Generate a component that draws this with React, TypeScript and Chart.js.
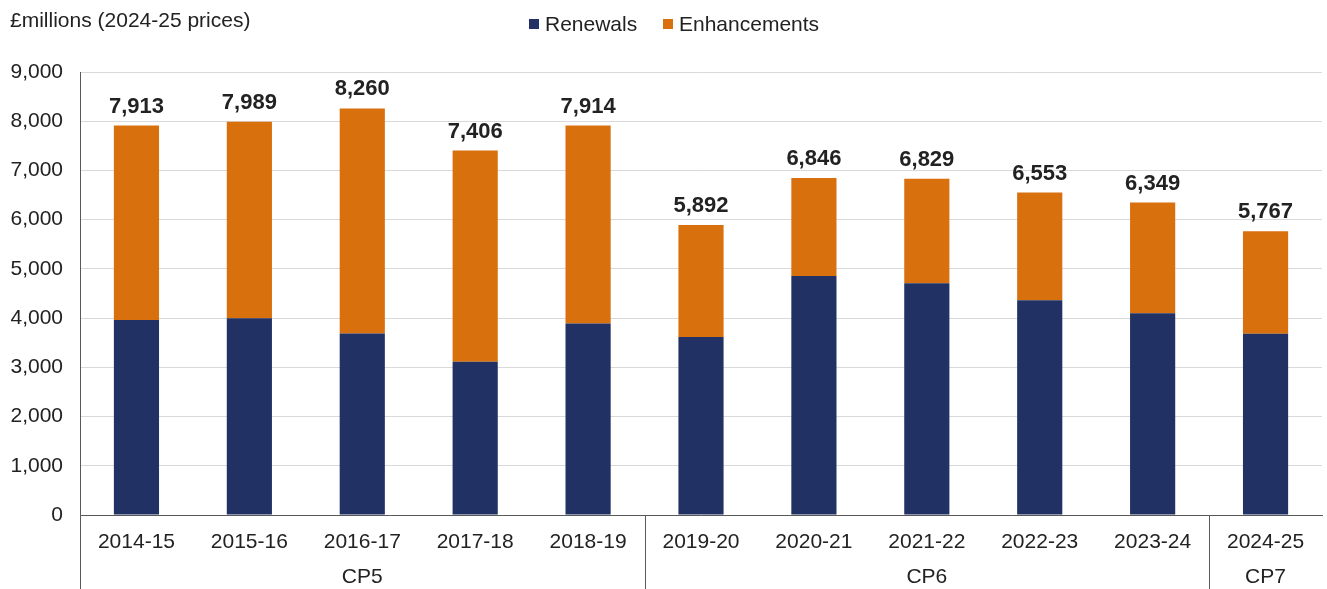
import React, { useEffect, useRef } from "react";
import { Chart, registerables } from "chart.js";

Chart.register(...registerables);

const categories = ["2014-15", "2015-16", "2016-17", "2017-18", "2018-19", "2019-20", "2020-21", "2021-22", "2022-23", "2023-24", "2024-25"];
const renewals = [3960, 3995, 3685, 3115, 3890, 3615, 4858, 4710, 4365, 4100, 3680];
const enhancements = [3953, 3994, 4575, 4291, 4024, 2277, 1988, 2119, 2188, 2249, 2087];
const totalLabels = ["7,913", "7,989", "8,260", "7,406", "7,914", "5,892", "6,846", "6,829", "6,553", "6,349", "5,767"];
const groups = [
  { label: "CP5", start: 0, end: 4 },
  { label: "CP6", start: 5, end: 9 },
  { label: "CP7", start: 10, end: 10 },
];
const yTitle = "£millions (2024-25 prices)";
const seriesNames = ["Renewals", "Enhancements"];

const NAVY = "#213163";
const ORANGE = "#D9700E";
const TEXT = "#222222";
const FONT = "'Liberation Sans', Arial, sans-serif";

export default function App() {
  const ref = useRef<HTMLCanvasElement | null>(null);

  useEffect(() => {
    if (!ref.current) return;
    const overlay = {
      id: "overlay",
      afterDraw(chart: any) {
        const ctx = chart.ctx;
        const xs = chart.scales.x;
        const area = chart.chartArea;
        ctx.save();
        // y title
        ctx.fillStyle = TEXT;
        ctx.font = `21px ${FONT}`;
        ctx.textAlign = "left";
        ctx.textBaseline = "middle";
        ctx.fillText(yTitle, 10, 21);
        // legend
        const legendItems = [
          { name: seriesNames[0], color: NAVY, x: 529 },
          { name: seriesNames[1], color: ORANGE, x: 663 },
        ];
        legendItems.forEach((it) => {
          ctx.fillStyle = it.color;
          ctx.fillRect(it.x, 19, 10, 10);
          ctx.fillStyle = TEXT;
          ctx.fillText(it.name, it.x + 16, 25);
        });
        // total labels
        const meta = chart.getDatasetMeta(1);
        ctx.font = `bold 22px ${FONT}`;
        ctx.textAlign = "center";
        meta.data.forEach((bar: any, i: number) => {
          ctx.fillText(totalLabels[i], bar.x, bar.y - 19);
        });
        // group separators and labels
        const boundary = (i: number) => {
          if (i <= 0) return area.left;
          return (xs.getPixelForTick(i - 1) + xs.getPixelForTick(i)) / 2;
        };
        ctx.strokeStyle = "#595959";
        ctx.lineWidth = 1;
        const bottom = chart.height;
        [0, 5, 10].forEach((i) => {
          const x = Math.round(boundary(i)) + 0.5;
          ctx.beginPath();
          ctx.moveTo(x, area.bottom);
          ctx.lineTo(x, bottom);
          ctx.stroke();
        });
        ctx.font = `21px ${FONT}`;
        ctx.fillStyle = TEXT;
        groups.forEach((g) => {
          const l = boundary(g.start);
          const r = g.end + 1 >= categories.length ? area.right : boundary(g.end + 1);
          ctx.fillText(g.label, (l + r) / 2, 577);
        });
        ctx.restore();
      },
    };

    const chart = new Chart(ref.current, {
      type: "bar",
      data: {
        labels: categories,
        datasets: [
          { label: seriesNames[0], data: renewals, backgroundColor: NAVY, borderWidth: 0, barPercentage: 0.4, categoryPercentage: 1 },
          { label: seriesNames[1], data: enhancements, backgroundColor: ORANGE, borderWidth: 0, barPercentage: 0.4, categoryPercentage: 1 },
        ],
      },
      options: {
        responsive: false,
        animation: false,
        layout: { padding: { left: 0, right: 5, top: 72, bottom: 0 } },
        plugins: { legend: { display: false }, tooltip: { enabled: false }, title: { display: false } },
        scales: {
          x: {
            stacked: true,
            grid: { display: false, drawTicks: false },
            border: { display: true, color: "#595959", width: 1 },
            ticks: { color: TEXT, font: { size: 21, family: FONT }, padding: 15, maxRotation: 0, autoSkip: false },
            afterFit: (s: any) => { s.height = 74; },
          },
          y: {
            stacked: true,
            min: 0,
            max: 9000,
            grid: { color: "#d9d9d9", lineWidth: 1, drawTicks: false },
            border: { display: true, color: "#595959", width: 1 },
            ticks: {
              stepSize: 1000,
              color: TEXT,
              font: { size: 21, family: FONT },
              padding: 17,
              callback: (v: any) => Number(v).toLocaleString("en-GB"),
            },
            afterFit: (s: any) => { s.width = 80; },
          },
        },
      },
      plugins: [overlay],
    });
    return () => chart.destroy();
  }, []);

  return (
    <div style={{ position: "fixed", left: 0, top: 0, width: 1327, height: 589, background: "#fff" }}>
      <canvas ref={ref} width={1327} height={589} />
    </div>
  );
}
